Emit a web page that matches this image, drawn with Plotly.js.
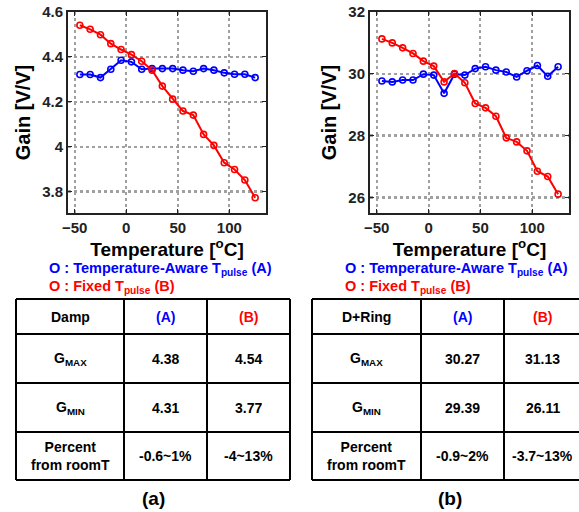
<!DOCTYPE html>
<html>
<head>
<meta charset="utf-8">
<script src="https://cdn.plot.ly/plotly-3.0.1.min.js"></script>
<style>html,body{margin:0;padding:0;background:#fff;}#chart{width:579px;height:512px;}</style>
</head>
<body>
<div id="chart"></div>
<script>
// ---- data ----
const temperature = [-45,-35,-25,-15,-5,5,15,25,35,45,55,65,75,85,95,105,115,125];
const dampAware = [4.322,4.322,4.308,4.345,4.385,4.378,4.345,4.348,4.348,4.348,4.341,4.336,4.348,4.341,4.329,4.323,4.323,4.308];
const dampFixed = [4.541,4.523,4.499,4.459,4.433,4.410,4.381,4.341,4.270,4.212,4.159,4.141,4.055,4.006,3.929,3.899,3.852,3.773];
const ringAware = [29.77,29.74,29.80,29.80,29.99,29.96,29.37,29.99,29.96,30.17,30.23,30.12,30.06,29.90,30.10,30.27,29.92,30.23];
const ringFixed = [31.13,31.00,30.84,30.66,30.41,30.25,29.74,30.01,29.71,29.04,28.90,28.63,27.93,27.80,27.51,26.85,26.68,26.11];

const legendA = 'O : Temperature-Aware T<sub>pulse</sub> (A)';
const legendB = 'O : Fixed T<sub>pulse</sub> (B)';
const xTickVals = [-50, 0, 50, 100];
const tableHeadA = ['Damp', '(A)', '(B)'];
const tableHeadB = ['D+Ring', '(A)', '(B)'];
const rowLabels = ['G<sub>MAX</sub>', 'G<sub>MIN</sub>', 'Percent<br>from roomT'];
const dampColA = ['4.38', '4.31', '-0.6~1%'];
const dampColB = ['4.54', '3.77', '-4~13%'];
const ringColA = ['30.27', '29.39', '-0.9~2%'];
const ringColB = ['31.13', '26.11', '-3.7~13%'];
const captions = ['(a)', '(b)'];

// ---- layout helpers ----
const W = 579, H = 512;
const px = x => x / W;
const py = y => 1 - y / H;
const FONT = 'Arial, "Liberation Sans", sans-serif';
const BLUE = '#0000ff', RED = '#ff0000';

function series(x, y, color, xa, ya) {
  return {
    x: x, y: y, type: 'scatter', mode: 'lines+markers', xaxis: xa, yaxis: ya,
    line: {color: color, width: 2},
    marker: {symbol: 'circle-open', size: 6, color: color, line: {width: 1.6, color: color}},
    showlegend: false, hoverinfo: 'skip'
  };
}

const traces = [
  series(temperature, dampAware, BLUE, 'x', 'y'),
  series(temperature, dampFixed, RED, 'x', 'y'),
  series(temperature, ringAware, BLUE, 'x2', 'y2'),
  series(temperature, ringFixed, RED, 'x2', 'y2')
];

function xAxis(domain, anchor) {
  return {
    domain: domain, anchor: anchor, range: [-56.5, 135.5],
    tickvals: xTickVals, ticks: 'inside', ticklen: 4, tickwidth: 1, tickcolor: '#222',
    showline: true, linecolor: '#222', linewidth: 2, mirror: 'ticks',
    showgrid: true, gridcolor: '#a0a0a0', gridwidth: 2, griddash: 'dot',
    zeroline: false,
    tickfont: {family: FONT, size: 15, color: '#222', weight: 'bold'},
    title: {text: 'Temperature [<sup>o</sup>C]', font: {family: FONT, size: 19, color: '#000', weight: 'bold'}, standoff: 4}
  };
}
function yAxis(domain, anchor, range, dtick) {
  return {
    domain: domain, anchor: anchor, range: range, dtick: dtick,
    ticks: 'inside', ticklen: 4, tickwidth: 1, tickcolor: '#222',
    showline: true, linecolor: '#222', linewidth: 2, mirror: 'ticks',
    showgrid: true, gridcolor: '#a0a0a0', gridwidth: 2.5, griddash: 'dot',
    zeroline: false,
    tickfont: {family: FONT, size: 15, color: '#222', weight: 'bold'},
    title: {text: 'Gain [V/V]', font: {family: FONT, size: 20, color: '#000', weight: 'bold'}, standoff: 6}
  };
}

const yDom = [py(213), py(12)];
const layout = {
  width: W, height: H, margin: {l: 0, r: 0, t: 0, b: 0},
  paper_bgcolor: '#fff', plot_bgcolor: '#fff',
  font: {family: FONT},
  showlegend: false,
  xaxis: xAxis([px(68), px(266)], 'y'),
  yaxis: yAxis(yDom, 'x', [3.705, 4.6], 0.2),
  xaxis2: xAxis([px(370), px(569)], 'y2'),
  yaxis2: yAxis(yDom, 'x2', [25.5, 32], 2),
  shapes: [],
  annotations: []
};

function text(t, x, y, opts) {
  layout.annotations.push(Object.assign({
    text: t, x: px(x), y: py(y), xref: 'paper', yref: 'paper', showarrow: false,
    xanchor: 'center', yanchor: 'middle',
    font: {family: FONT, size: 14, color: '#000', weight: 'bold'}
  }, opts || {}));
}
function line(x0, y0, x1, y1) {
  layout.shapes.push({type: 'line', xref: 'paper', yref: 'paper',
    x0: px(x0), y0: py(y0), x1: px(x1), y1: py(y1), line: {color: '#000', width: 2}});
}

// legends below the plots
[[47], [343]].forEach(([lx]) => {
  text(legendA, lx, 269, {xanchor: 'left', font: {family: FONT, size: 14.5, color: BLUE, weight: 'bold'}});
  text(legendB, lx, 287, {xanchor: 'left', font: {family: FONT, size: 14.5, color: RED, weight: 'bold'}});
});

// tables
const rowEdges = [299, 334, 383, 432, 480];
function table(cols, head, colA, colB, caption, capX) {
  rowEdges.forEach(r => line(cols[0], r, cols[3], r));
  cols.forEach(c => line(c, rowEdges[0], c, rowEdges[4]));
  const cx = [(cols[0] + cols[1]) / 2, (cols[1] + cols[2]) / 2, (cols[2] + cols[3]) / 2];
  const ry = [];
  for (let i = 0; i < 4; i++) ry.push((rowEdges[i] + rowEdges[i + 1]) / 2);
  text(head[0], cx[0], ry[0]);
  text(head[1], cx[1], ry[0], {font: {family: FONT, size: 14, color: BLUE, weight: 'bold'}});
  text(head[2], cx[2], ry[0], {font: {family: FONT, size: 14, color: RED, weight: 'bold'}});
  for (let i = 0; i < 3; i++) {
    text(rowLabels[i], cx[0], ry[i + 1]);
    text(colA[i], cx[1], ry[i + 1]);
    text(colB[i], cx[2], ry[i + 1]);
  }
  text(caption, capX, 498, {font: {family: FONT, size: 19, color: '#000', weight: 'bold'}});
}
table([16, 124, 207, 290], tableHeadA, dampColA, dampColB, captions[0], 153);
table([312, 421, 504, 581], tableHeadB, ringColA, ringColB, captions[1], 450);

Plotly.newPlot('chart', traces, layout, {staticPlot: true, displayModeBar: false});
</script>
</body>
</html>
